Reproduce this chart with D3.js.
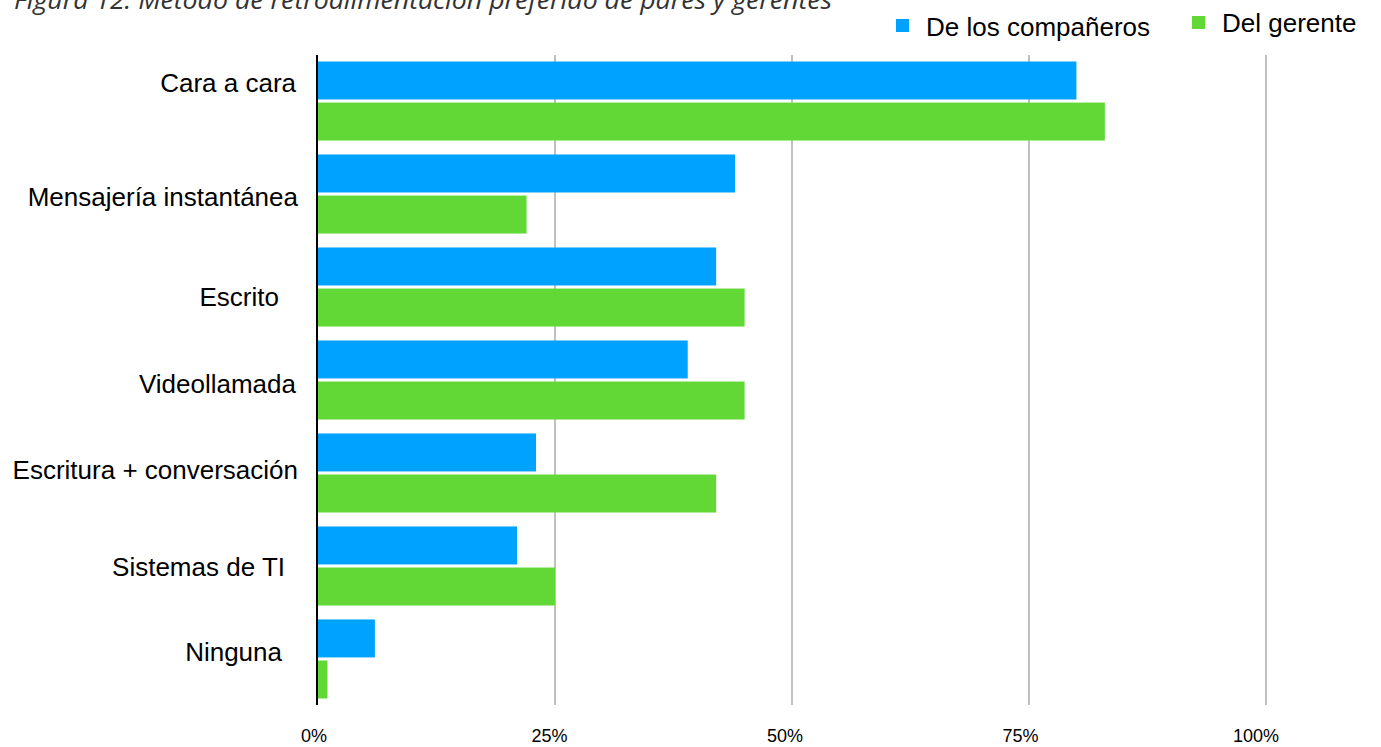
<!DOCTYPE html>
<html>
<head>
<meta charset="utf-8">
<script src="https://cdn.jsdelivr.net/npm/d3@7/dist/d3.min.js"></script>
<style>
  html, body { margin: 0; padding: 0; background: #fff; }
  svg { display: block; }
</style>
</head>
<body>
<svg id="chart" width="1381" height="747"></svg>
<script>
// Preferred feedback method, share of respondents (%)
const categories = [
  "Cara a cara",
  "Mensajería instantánea",
  "Escrito",
  "Videollamada",
  "Escritura + conversación",
  "Sistemas de TI",
  "Ninguna"
];
const seriesNames = ["De los compañeros", "Del gerente"];
const peers   = [80, 44, 42, 39, 23, 21, 6];
const manager = [83, 22, 45, 45, 42, 25, 1];
const tickValues = [0, 25, 50, 75, 100];
const tickLabels = ["0%", "25%", "50%", "75%", "100%"];
const title = "Figura 12: Método de retroalimentación preferido de pares y gerentes";

// Layout
const colors = ["#00A2FF", "#61D836"];
const plot = { left: 318, right: 1266, top: 55, bottom: 705 };
// Small per-label nudges for the category labels (dx, dy)
const labelNudge = [[-2, -18], [0, 3], [-19, 10], [-2, 4], [0, -3], [-13, 1], [-16, -7]];

const svg = d3.select("#chart");

const x = d3.scaleLinear().domain([0, 100]).range([plot.left, plot.right]);
const y = d3.scaleBand().domain(categories).range([plot.top, plot.bottom]).paddingInner(0.15).paddingOuter(0.07);
const ySub = d3.scaleBand().domain(seriesNames).range([0, y.bandwidth()]).paddingInner(0.075);

// Vertical gridlines
svg.append("g")
  .selectAll("line")
  .data(tickValues.filter(d => d > 0))
  .join("line")
  .attr("x1", d => x(d)).attr("x2", d => x(d))
  .attr("y1", plot.top).attr("y2", plot.bottom)
  .attr("stroke", "#c0c0c0")
  .attr("stroke-width", 2);

// Bars
const rows = categories.map((c, i) => ({ cat: c, vals: [peers[i], manager[i]] }));
const groups = svg.append("g")
  .selectAll("g")
  .data(rows)
  .join("g")
  .attr("transform", d => `translate(0,${y(d.cat)})`);

groups.selectAll("rect")
  .data(d => d.vals.map((v, j) => ({ v, s: seriesNames[j], j })))
  .join("rect")
  .attr("x", x(0))
  .attr("y", d => ySub(d.s))
  .attr("width", d => x(d.v) - x(0))
  .attr("height", ySub.bandwidth())
  .attr("fill", d => colors[d.j]);

// Category axis line
svg.append("line")
  .attr("x1", plot.left - 1).attr("x2", plot.left - 1)
  .attr("y1", plot.top).attr("y2", plot.bottom)
  .attr("stroke", "#000")
  .attr("stroke-width", 2);

// Category labels
svg.append("g")
  .selectAll("text")
  .data(categories)
  .join("text")
  .attr("x", (d, i) => 298 + labelNudge[i][0])
  .attr("y", (d, i) => y(d) + y.bandwidth() / 2 + labelNudge[i][1])
  .attr("dy", "0.35em")
  .attr("text-anchor", "end")
  .attr("font-family", "'Liberation Sans', Arial, sans-serif")
  .attr("font-size", 26)
  .attr("fill", "#000")
  .text(d => d);

// Value axis tick labels
svg.append("g")
  .selectAll("text")
  .data(tickValues)
  .join("text")
  .attr("x", (d, i) => x(d) - 4 - i * 1.5)
  .attr("y", 742)
  .attr("text-anchor", "middle")
  .attr("font-family", "'Liberation Sans', Arial, sans-serif")
  .attr("font-size", 18)
  .attr("fill", "#000")
  .text((d, i) => tickLabels[i]);

// Title (partly above the top edge)
svg.append("text")
  .attr("x", 14)
  .attr("y", 9)
  .attr("font-family", "'Open Sans', sans-serif")
  .attr("font-style", "italic")
  .attr("font-size", 25)
  .attr("fill", "#333")
  .attr("textLength", 818)
  .attr("lengthAdjust", "spacingAndGlyphs")
  .text(title);

// Legend
const legendItems = [
  { name: seriesNames[0], color: colors[0], sx: 896, sy: 19, tx: 926, ty: 36 },
  { name: seriesNames[1], color: colors[1], sx: 1192, sy: 16, tx: 1222, ty: 32 }
];
const legend = svg.append("g");
legend.selectAll("rect")
  .data(legendItems)
  .join("rect")
  .attr("x", d => d.sx).attr("y", d => d.sy)
  .attr("width", 13).attr("height", 13)
  .attr("fill", d => d.color);
legend.selectAll("text")
  .data(legendItems)
  .join("text")
  .attr("x", d => d.tx).attr("y", d => d.ty)
  .attr("font-family", "'Liberation Sans', Arial, sans-serif")
  .attr("font-size", 26)
  .attr("fill", "#000")
  .text(d => d.name);
</script>
</body>
</html>
